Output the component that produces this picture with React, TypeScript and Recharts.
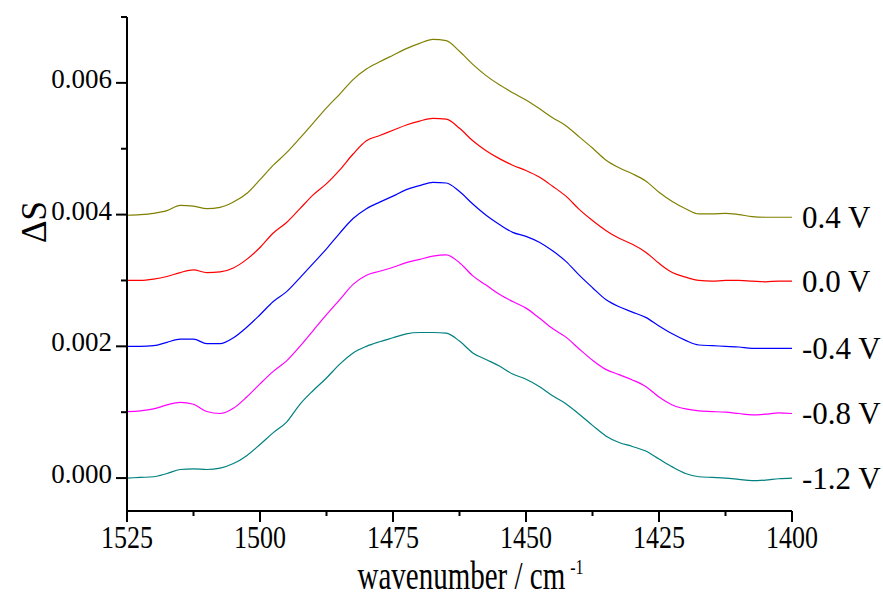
import { LineChart, Line, XAxis, YAxis } from "recharts";

const WAVENUMBERS = [
  1525, 1522.5, 1520, 1517.5, 1515, 1512.5, 1510, 1507.5, 1505, 1502.5,
  1500, 1497.5, 1495, 1492.5, 1490, 1487.5, 1485, 1482.5, 1480, 1477.5,
  1475, 1472.5, 1470, 1467.5, 1465, 1462.5, 1460, 1457.5, 1455, 1452.5,
  1450, 1447.5, 1445, 1442.5, 1440, 1437.5, 1435, 1432.5, 1430, 1427.5,
  1425, 1422.5, 1420, 1417.5, 1415, 1412.5, 1410, 1407.5, 1405, 1402.5, 1400,
];

const V_POS_04 = [
  0.00399, 0.004, 0.00402, 0.00406, 0.00414, 0.00413, 0.00409, 0.00411, 0.00419, 0.00432,
  0.00453, 0.00475, 0.00494, 0.00516, 0.00539, 0.00562, 0.00583, 0.00605, 0.00621, 0.00632,
  0.00642, 0.00652, 0.0066, 0.00666, 0.00664, 0.00648, 0.00628, 0.00611, 0.00597, 0.00585,
  0.00574, 0.00561, 0.00547, 0.00535, 0.00518, 0.00501, 0.00483, 0.00471, 0.00462, 0.00451,
  0.00434, 0.0042, 0.00409, 0.00401, 0.00401, 0.00402, 0.004, 0.00397, 0.00396, 0.00396, 0.00396,
];

const V_00 = [
  0.003, 0.003, 0.00302, 0.00306, 0.00312, 0.00316, 0.00312, 0.00313, 0.00319, 0.00332,
  0.0035, 0.00372, 0.00388, 0.00409, 0.0043, 0.00447, 0.00468, 0.00492, 0.00512, 0.0052,
  0.00528, 0.00536, 0.00542, 0.00546, 0.00545, 0.00531, 0.00512, 0.00497, 0.00485, 0.00475,
  0.00467, 0.00457, 0.00443, 0.00428, 0.00408, 0.00391, 0.00376, 0.00364, 0.00355, 0.00343,
  0.00326, 0.00312, 0.00305, 0.003, 0.00299, 0.003, 0.003, 0.00299, 0.00298, 0.00299, 0.00299,
];

const V_NEG_04 = [
  0.002, 0.002, 0.00201, 0.00206, 0.00211, 0.00211, 0.00204, 0.00204, 0.00213, 0.00229,
  0.00248, 0.00268, 0.00283, 0.00304, 0.00326, 0.00348, 0.00372, 0.00394, 0.00409, 0.00419,
  0.00428, 0.00438, 0.00444, 0.00449, 0.00448, 0.00435, 0.00416, 0.00399, 0.00385, 0.00373,
  0.00367, 0.00358, 0.00345, 0.00329, 0.00308, 0.00289, 0.00271, 0.0026, 0.00252, 0.00244,
  0.00231, 0.00219, 0.00209, 0.00202, 0.00201, 0.002, 0.00199, 0.00197, 0.00197, 0.00197, 0.00197,
];

const V_NEG_08 = [
  0.00101, 0.00102, 0.00105, 0.00111, 0.00115, 0.00112, 0.00101, 0.00098, 0.00106, 0.00123,
  0.00143, 0.00162, 0.00178, 0.002, 0.00224, 0.00248, 0.00271, 0.00294, 0.00308, 0.00314,
  0.0032, 0.00327, 0.00332, 0.00337, 0.00339, 0.00327, 0.00307, 0.00293, 0.00279, 0.00268,
  0.00258, 0.00243, 0.00227, 0.00214, 0.00196, 0.00179, 0.00165, 0.00157, 0.00149, 0.00139,
  0.00123, 0.00111, 0.00105, 0.00102, 0.00101, 0.001, 0.00098, 0.00096, 0.00097, 0.00099, 0.00098,
];

const V_NEG_12 = [
  0.0, 0.00001, 0.00002, 0.00007, 0.00013, 0.00014, 0.00013, 0.00015, 0.00022, 0.00034,
  0.00051, 0.00069, 0.00085, 0.00112, 0.00133, 0.00152, 0.00173, 0.0019, 0.002, 0.00207,
  0.00213, 0.00219, 0.00221, 0.00221, 0.0022, 0.00208, 0.0019, 0.0018, 0.0017, 0.00158,
  0.0015, 0.00139, 0.00125, 0.00113, 0.00097, 0.0008, 0.00064, 0.00054, 0.00048, 0.00041,
  0.00029, 0.00017, 0.00007, 0.00002, 0.00001, 0.0, -0.00002, -0.00004, -0.00003, -0.00001, 0.0,
];

const SERIES = [
  { key: "v04", label: "0.4 V", color: "#808000", values: V_POS_04 },
  { key: "v00", label: "0.0 V", color: "#ff0000", values: V_00 },
  { key: "vm04", label: "-0.4 V", color: "#0000ff", values: V_NEG_04 },
  { key: "vm08", label: "-0.8 V", color: "#ff00ff", values: V_NEG_08 },
  { key: "vm12", label: "-1.2 V", color: "#008080", values: V_NEG_12 },
];

const X_TICKS = [1525, 1512.5, 1500, 1487.5, 1475, 1462.5, 1450, 1437.5, 1425, 1412.5, 1400];
const Y_TICKS = [0, 0.001, 0.002, 0.003, 0.004, 0.005, 0.006, 0.007];

const FONT = '"Liberation Serif", "Times New Roman", serif';

const data = WAVENUMBERS.map((wn, i) => {
  const row: Record<string, number> = { wn };
  SERIES.forEach((s) => (row[s.key] = s.values[i]));
  return row;
});

const XTick = ({ x, y, payload }: any) => {
  const major = payload.value % 25 === 0;
  return (
    <g>
      <line x1={x} x2={x} y1={y} y2={y + (major ? 11 : 5)} stroke="#000" strokeWidth={2} />
      {major && (
        <text
          transform={`translate(${x},${y}) scale(1,1.2)`}
          y={30.6}
          textAnchor="middle"
          fontSize={26}
          fontFamily={FONT}
          fill="#000"
        >
          {payload.value}
        </text>
      )}
    </g>
  );
};

const YTick = ({ x, y, payload }: any) => {
  const major = Math.round(payload.value * 1000) % 2 === 0;
  return (
    <g>
      <line x1={x} x2={x - (major ? 11 : 6)} y1={y} y2={y} stroke="#000" strokeWidth={2} />
      {major && (
        <text x={x - 15} y={y + 5} textAnchor="end" fontSize={27} fontFamily={FONT} fill="#000">
          {payload.value.toFixed(3)}
        </text>
      )}
    </g>
  );
};

const XTitle = ({ viewBox }: any) => {
  const cx = viewBox.x + viewBox.width / 2 + 11;
  const by = viewBox.y + 78;
  return (
    <text
      transform={`translate(${cx},${by}) scale(1,1.35)`}
      textAnchor="middle"
      fontSize={29}
      fontFamily={FONT}
      fill="#000"
    >
      wavenumber / cm
      <tspan dx={5} dy={-11} fontSize={16}>
        -1
      </tspan>
    </text>
  );
};

const YTitle = () => (
  <text
    transform="translate(34,222) rotate(-90)"
    textAnchor="middle"
    dy="0.34em"
    fontSize={35}
    fontFamily={FONT}
    fill="#000"
  >
    ΔS
  </text>
);

const endLabel = (text: string) => (props: any) => {
  const { x, y, index } = props;
  if (index !== WAVENUMBERS.length - 1) return null;
  return (
    <text x={x + 10} y={y} dy="0.34em" fontSize={31} fontFamily={FONT} fill="#000">
      {text}
    </text>
  );
};

export default function App() {
  return (
    <>
      <style>{"body{margin:0;background:#fff}"}</style>
      <LineChart
        width={883}
        height={597}
        data={data}
        margin={{ top: 17, right: 91, bottom: 26, left: 0 }}
      >
        <XAxis
          dataKey="wn"
          type="number"
          domain={[1400, 1525]}
          reversed
          ticks={X_TICKS}
          interval={0}
          height={60}
          tickSize={0}
          tickMargin={0}
          tickLine={false}
          tick={<XTick />}
          axisLine={{ stroke: "#000", strokeWidth: 2 }}
          label={<XTitle />}
        />
        <YAxis
          type="number"
          domain={[-0.0005, 0.007]}
          ticks={Y_TICKS}
          interval={0}
          width={127}
          tickSize={0}
          tickMargin={0}
          tickLine={false}
          tick={<YTick />}
          axisLine={{ stroke: "#000", strokeWidth: 2 }}
          label={<YTitle />}
        />
        {SERIES.map((s) => (
          <Line
            key={s.key}
            dataKey={s.key}
            type="monotone"
            stroke={s.color}
            strokeWidth={1.2}
            dot={false}
            activeDot={false}
            isAnimationActive={false}
            label={endLabel(s.label)}
          />
        ))}
      </LineChart>
    </>
  );
}
